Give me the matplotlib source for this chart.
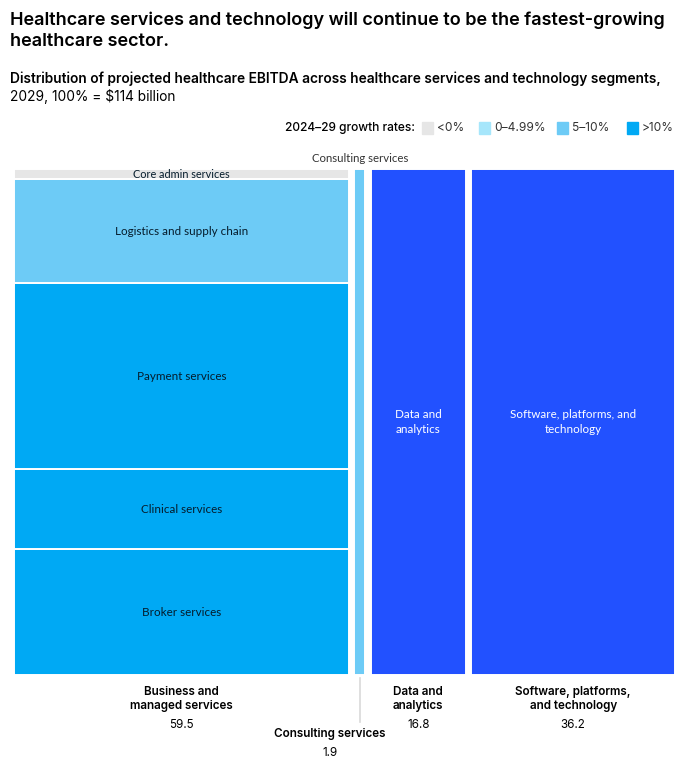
import matplotlib.pyplot as plt
from matplotlib.transforms import blended_transform_factory
from matplotlib.patches import Rectangle

plt.rcParams['font.family'] = ['Inter', 'DejaVu Sans']

# columns (EBITDA 2029, $ billion)
columns = ["Business and\nmanaged services", "Consulting services",
           "Data and\nanalytics", "Software, platforms,\nand technology"]
col_values = [59.5, 1.9, 16.8, 36.2]

# segments of the first column, bottom to top ($ billion)
seg_names = ["Broker services", "Clinical services", "Payment services",
             "Logistics and supply chain", "Core admin services"]
seg_values = [14.8, 9.4, 21.9, 12.2, 1.2]
seg_growth = [">10%", ">10%", ">10%", "5–10%", "<0%"]

legend_labels = ["<0%", "0–4.99%", "5–10%", ">10%"]
legend_colors = ["#E6E6E6", "#A6E6FB", "#6DCBF6", "#00A9F4"]
growth_color = dict(zip(legend_labels, legend_colors))
dark_blue = "#2251FF"
ink = "#051C2C"

W, H = 675, 768
fig = plt.figure(figsize=(W / 100, H / 100), dpi=100)


def fx(x):
    return x / W


def fy(y):
    return 1 - y / H


# titles
fig.text(fx(10), fy(20), "Healthcare services and technology will continue to be the fastest-growing",
         fontsize=13.0, fontweight='semibold', va='center', color='black')
fig.text(fx(10), fy(42), "healthcare sector.", fontsize=13.0, fontweight='semibold', va='center', color='black')
fig.text(fx(10), fy(79), "Distribution of projected healthcare EBITDA across healthcare services and technology segments,",
         fontsize=9.9, fontweight='semibold', va='center', color='black')
fig.text(fx(10), fy(96), "2029, 100% = $114 billion", fontsize=9.9, va='center', color='black')

# legend
fig.text(fx(415), fy(128), "2024–29 growth rates:", fontsize=8.6, fontweight='medium', ha='right', va='center')
leg_x = [422, 479, 557, 627]
for x, lab, c in zip(leg_x, legend_labels, legend_colors):
    fig.patches.append(Rectangle((fx(x), fy(134)), 11 / W, 12 / H, color=c,
                                 transform=fig.transFigure, figure=fig))
    fig.text(fx(x + 15), fy(128), lab, fontsize=8.6, va='center', color='#333333')

# chart
ax = fig.add_axes([fx(14), fy(675), 661 / W, 506 / H])
gap = 1.05
lefts = []
pos = 0
for v in col_values:
    lefts.append(pos)
    pos += v + gap
ax.set_xlim(0, pos - gap)
ax.set_ylim(0, 1)
ax.axis('off')

# first column: stacked segments
bottom = 0
for name, v, g in zip(seg_names, seg_values, seg_growth):
    h = v / col_values[0]
    ax.bar(lefts[0], h, width=col_values[0], bottom=bottom, align='edge',
           color=growth_color[g], edgecolor='white', linewidth=1.4)
    size = 7.8 if name == "Core admin services" else 8.4
    ax.text(lefts[0] + col_values[0] / 2, bottom + h / 2, name, ha='center', va='center',
            fontsize=size, color=ink, family=['Lato', 'DejaVu Sans'])
    bottom += h

# consulting column
ax.bar(lefts[1], 1, width=col_values[1], align='edge', color=growth_color["5–10%"],
       edgecolor='white', linewidth=1.4)
# data & analytics, software
inner = ["Data and\nanalytics", "Software, platforms, and\ntechnology"]
for i, lab in zip([2, 3], inner):
    ax.bar(lefts[i], 1, width=col_values[i], align='edge', color=dark_blue,
           edgecolor='white', linewidth=1.4)
    ax.text(lefts[i] + col_values[i] / 2, 0.5, lab, ha='center', va='center',
            fontsize=8.4, color='white', linespacing=1.35, family=['Lato', 'DejaVu Sans'])

# labels above/below
bt = blended_transform_factory(ax.transData, fig.transFigure)
cons_x = lefts[1] + col_values[1] / 2
ax.text(cons_x, fy(158), "Consulting services", transform=bt, ha='center', va='center',
        fontsize=8.2, color='#333333', family=['Lato', 'DejaVu Sans'])

for i in [0, 2, 3]:
    cx = lefts[i] + col_values[i] / 2
    ax.text(cx, fy(699), columns[i], transform=bt, ha='center', va='center',
            fontsize=8.4, fontweight='semibold', linespacing=1.3)
    ax.text(cx, fy(725), f"{col_values[i]}", transform=bt, ha='center', va='center', fontsize=8.4)

ax.plot([cons_x, cons_x], [fy(678), fy(722)], transform=bt, color='#D9D9D9', lw=1.2, clip_on=False)
ax.text(cons_x - 5.3, fy(734), columns[1], transform=bt, ha='center', va='center',
        fontsize=8.4, fontweight='semibold')
ax.text(cons_x - 5.3, fy(753), f"{col_values[1]}", transform=bt, ha='center', va='center', fontsize=8.4)

fig.savefig("out.png", dpi=100)
